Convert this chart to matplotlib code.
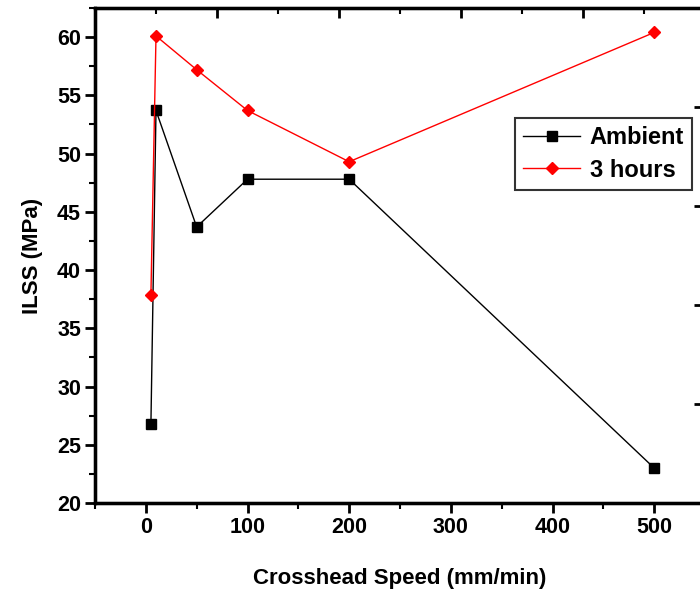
import matplotlib
matplotlib.use("Agg")
import matplotlib.pyplot as plt
from matplotlib.ticker import MultipleLocator

# Data
speed = [5, 10, 50, 100, 200, 500]
ambient = [26.8, 53.7, 43.7, 47.8, 47.8, 23.0]
three_hours = [37.9, 60.1, 57.2, 53.7, 49.3, 60.4]

plt.rcParams['font.family'] = ['Liberation Sans', 'DejaVu Sans']
plt.rcParams['font.weight'] = 'bold'

fig = plt.figure(figsize=(7, 5.92), dpi=100)
ax = fig.add_axes([95 / 700, 1 - 503 / 592, 610 / 700, 495 / 592])

ax.plot(speed, ambient, color='black', lw=1.0, marker='s', ms=7,
        label='Ambient')
ax.plot(speed, three_hours, color='red', lw=1.0, marker='D', ms=6.5,
        label='3 hours')

ax.set_xlim(-50, 550)
ax.set_ylim(20, 62.5)
ax.xaxis.set_major_locator(MultipleLocator(100))
ax.xaxis.set_minor_locator(MultipleLocator(50))
ax.yaxis.set_major_locator(MultipleLocator(5))
ax.yaxis.set_minor_locator(MultipleLocator(2.5))
ax.set_xticks([0, 100, 200, 300, 400, 500])

for s in ax.spines.values():
    s.set_linewidth(2.3)

ax.tick_params(which='major', direction='out', length=7, width=2,
               labelsize=15.5, pad=3)
ax.tick_params(which='minor', direction='out', length=4, width=1.5)
for lab in ax.get_xticklabels() + ax.get_yticklabels():
    lab.set_fontweight('bold')

ax.set_xlabel('Crosshead Speed (mm/min)', fontsize=16, fontweight='bold',
              labelpad=22)
ax.set_ylabel('ILSS (MPa)', fontsize=16, fontweight='bold', labelpad=10)

# stray top/right ticks from the original figure
top = ax.twiny()
top.set_xlim(0, 10)
top.xaxis.set_major_locator(MultipleLocator(2))
top.xaxis.set_minor_locator(MultipleLocator(1))
top.tick_params(which='major', direction='in', length=7, width=2,
                labeltop=False)
top.tick_params(which='minor', direction='in', length=4, width=1.5)
right = ax.twinx()
right.set_ylim(0, 5)
right.yaxis.set_major_locator(MultipleLocator(1))
right.tick_params(which='major', direction='in', length=8, width=2,
                  labelright=False)
for s in list(top.spines.values()) + list(right.spines.values()):
    s.set_linewidth(2.3)

leg = ax.legend(loc='upper right', bbox_to_anchor=(0.979, 0.778),
                fontsize=17, frameon=True, fancybox=False, borderpad=0.35,
                handlelength=2.4, handletextpad=0.4, labelspacing=0.4,
                borderaxespad=0)
leg.get_frame().set_edgecolor('black')
leg.get_frame().set_linewidth(1.5)
for t in leg.get_texts():
    t.set_fontweight('bold')

fig.savefig('out.png', dpi=100)
